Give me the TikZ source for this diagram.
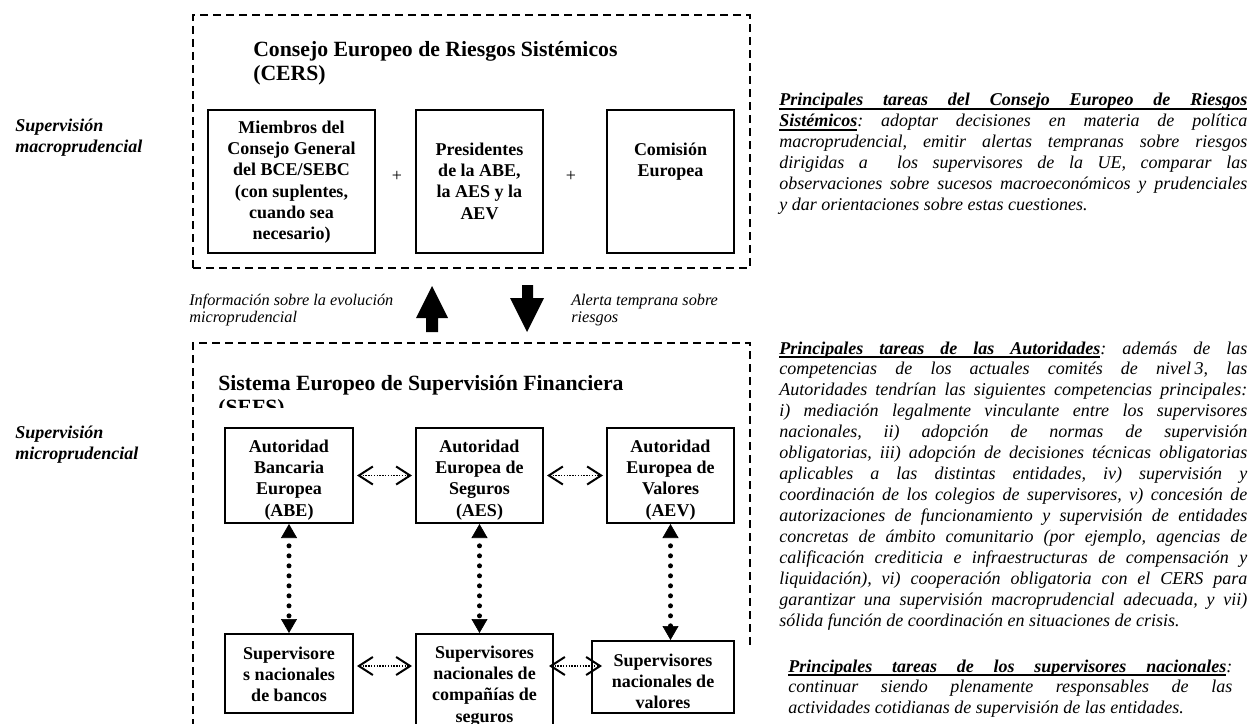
\documentclass[tikz,border=0pt]{standalone}
\usepackage{fontspec}
\setmainfont{Liberation Serif}
\usetikzlibrary{arrows.meta,fit}
\AtBeginDocument{\frenchspacing}
\newcommand\clines[1]{\vtop{\halign{\hfil##\hfil\cr#1\crcr}}}
\newcommand\llines[1]{\vtop{\halign{##\hfil\cr#1\crcr}}}
\newcommand\uw[1]{\setbox0\hbox{#1}\rlap{\vrule height -1.7pt depth 3.2pt width \wd0}\box0}
\newcommand\us{\leaders\hrule height -1.7pt depth 3.2pt\hskip\fontdimen2\font plus\fontdimen3\font minus\fontdimen4\font\relax}
\newcommand\jl[1]{\hbox to\hsize{#1}}
\tikzset{
  container/.style={draw, line width=1.5pt, dash pattern=on 6pt off 3.75pt},
  boxe/.style={draw, line width=1.5pt, inner sep=0pt},
  boxtext/.style={font=\bfseries\fontsize{13.5}{16}\selectfont, inner sep=0pt},
  titletext/.style={font=\bfseries\fontsize{16.3}{18}\selectfont, inner sep=0pt},
  sidelabel/.style={font=\bfseries\itshape\fontsize{13.5}{15.75}\selectfont, inner sep=0pt},
  flowlabel/.style={font=\itshape\fontsize{12.2}{12.75}\selectfont, inner sep=0pt},
  notes/.style={font=\itshape\fontsize{13.5}{15.7}\selectfont, inner sep=0pt},
  plussign/.style={font=\fontsize{13.5}{16}\selectfont, inner sep=0pt},
  vlink/.style={line width=3.75pt, line cap=round, dash pattern=on 0pt off 7.5pt, dash phase=1.5pt,
     {Triangle[length=10.5pt,width=12pt,line width=0.5pt]}-{Triangle[length=10.5pt,width=12pt,line width=0.5pt]}},
  hlink/.style={line width=1pt, dash pattern=on 1pt off 1.1pt,
     {Straight Barb[length=10.5pt,width=13.5pt,line width=1.5pt]}-{Straight Barb[length=10.5pt,width=13.5pt,line width=1.5pt]}},
  bigarrow/.style={fill=black},
}
\begin{document}
\begin{tikzpicture}[x=0.75pt,y=-0.75pt]
\useasboundingbox[fill=white] (0,0) rectangle (1250,724);
% containers
\node[container, inner sep=0pt, fit={(193,15) (750,268)}] (cers) {};
\coordinate (sefsBL) at (193,740);
\coordinate (sefsTL) at (193,343);
\coordinate (sefsTR) at (750,343);
\coordinate (sefsBR) at (750,645);
\draw[container] (sefsBL) -- (sefsTL) -- (sefsTR) -- (sefsBR);
% boxes
\node[boxe, fit={(208,110) (375,253)}] (miembros) {};
\node[boxe, fit={(416,110) (543,253)}] (presid) {};
\node[boxe, fit={(607,110) (734,253)}] (comision) {};
\node[boxe, fit={(225,428) (353,523)}] (abe) {};
\node[boxe, fit={(416,428) (543,523)}] (aes) {};
\node[boxe, fit={(607,428) (734,523)}] (aev) {};
\node[boxe, fit={(225,634) (353,713)}] (bancos) {};
\node[boxe, fit={(416,634) (553,760)}] (seguros) {};
\node[boxe, fit={(592,641) (734,713)}] (valores) {};
% box texts
\node[boxtext, anchor=base] (miembrosT) at (291.5,133) {\clines{Miembros del\cr Consejo General\cr del BCE/SEBC\cr (con suplentes,\cr cuando sea\cr necesario)}};
\node[boxtext, anchor=base] (presidT) at (479.5,155) {\clines{Presidentes\cr de la ABE,\cr la AES y la\cr AEV}};
\node[boxtext, anchor=base] (comisionT) at (670.5,155) {\clines{Comisión\cr Europea}};
\node[boxtext, anchor=base] (abeT) at (289,452) {\clines{Autoridad\cr Bancaria\cr Europea\cr (ABE)}};
\node[boxtext, anchor=base] (aesT) at (479.5,452) {\clines{Autoridad\cr Europea de\cr Seguros\cr (AES)}};
\node[boxtext, anchor=base] (aevT) at (670.5,452) {\clines{Autoridad\cr Europea de\cr Valores\cr (AEV)}};
\node[boxtext, anchor=base] (bancosT) at (289,659) {\clines{Supervisore\cr s nacionales\cr de bancos}};
\node[boxtext, anchor=base] (segurosT) at (484.5,658) {\clines{Supervisores\cr nacionales de\cr compañías de\cr seguros}};
\node[boxtext, anchor=base] (valoresT) at (663,666) {\clines{Supervisores\cr nacionales de\cr valores}};
\node[plussign] (plus1) at (397,176) {+};
\node[plussign] (plus2) at (571,176) {+};
% titles
\node[titletext, anchor=base west] (cersT) at (253,57) {\llines{Consejo Europeo de Riesgos Sistémicos\cr (CERS)}};
\begin{scope}
\clip (200,360) rectangle (740,407);
\node[titletext, anchor=base west] (sefsT) at (218,390) {\llines{Sistema Europeo de Supervisión Financiera\cr (SEFS)}};
\end{scope}
% side labels
\node[sidelabel, anchor=base west] (macro) at (15,132) {\llines{Supervisión\cr macroprudencial}};
\node[sidelabel, anchor=base west] (micro) at (15,438) {\llines{Supervisión\cr microprudencial}};
% flow labels and block arrows
\node[flowlabel, anchor=base west] (infoT) at (189,305) {\llines{Información sobre la evolución\cr microprudencial}};
\node[flowlabel, anchor=base west] (alertT) at (571,305) {\llines{Alerta temprana sobre\cr riesgos}};
\coordinate (upTip) at (432,286);
\coordinate (downTip) at (527,332);
\fill[bigarrow] (426,332) -- (426,318) -- (416,318) -- (upTip) -- (448,318) -- (438,318) -- (438,332) -- cycle;
\fill[bigarrow] (522,285) -- (533,285) -- (533,298) -- (544,298) -- (downTip) -- (510,298) -- (522,298) -- cycle;
% connectors
\draw[hlink, shorten <=2.25pt, shorten >=2.25pt] (abe) -- (aes);
\draw[hlink, shorten <=2.25pt, shorten >=2.25pt] (aes) -- (aev);
\coordinate (hrow) at (0,666);
\draw[hlink, shorten <=2.25pt, shorten >=2.25pt] (bancos.east |- hrow) -- (seguros.west |- hrow);
\draw[hlink, shorten <=-3.75pt, shorten >=-8.25pt] (seguros.east |- hrow) -- (valores.west |- hrow);
\draw[vlink] (abe.south) -- (bancos.north);
\draw[vlink] (aes.south) -- (aes.south |- seguros.north);
\draw[vlink] (aev.south) -- (aev.south |- valores.north);
% notes
\node[notes, anchor=base west] (note1) at (779,106) {\vtop{\hsize=351pt
\jl{{\bfseries\uw{Principales}\us\uw{tareas}\us\uw{del}\us\uw{Consejo}\us\uw{Europeo}\us\uw{de}\us\uw{Riesgos}}}
\jl{{\bfseries\uw{Sistémicos}}: adoptar decisiones en materia de política}
\jl{macroprudencial, emitir alertas tempranas sobre riesgos}
\jl{dirigidas a \ los supervisores de la UE, comparar las}
\jl{observaciones sobre sucesos macroeconómicos y prudenciales}
\hbox{y dar orientaciones sobre estas cuestiones.}}};
\node[notes, anchor=base west] (note2) at (779,354) {\vtop{\hsize=351pt
\jl{{\bfseries\uw{Principales}\us\uw{tareas}\us\uw{de}\us\uw{las}\us\uw{Autoridades}}: además de las}
\jl{competencias de los actuales comités de nivel\kern0.2em 3, las}
\jl{Autoridades tendrían las siguientes competencias principales:}
\jl{i) mediación legalmente vinculante entre los supervisores}
\jl{nacionales, ii) adopción de normas de supervisión}
\jl{obligatorias, iii) adopción de decisiones técnicas obligatorias}
\jl{aplicables a las distintas entidades, iv) supervisión y}
\jl{coordinación de los colegios de supervisores, v) concesión de}
\jl{autorizaciones de funcionamiento y supervisión de entidades}
\jl{concretas de ámbito comunitario (por ejemplo, agencias de}
\jl{calificación crediticia e infraestructuras de compensación y}
\jl{liquidación), vi) cooperación obligatoria con el CERS para}
\jl{garantizar una supervisión macroprudencial adecuada, y vii)}
\hbox{sólida función de coordinación en situaciones de crisis.}}};
\node[notes, anchor=base west] (note3) at (788,672) {\vtop{\hsize=333pt
\jl{{\bfseries\uw{Principales}\us\uw{tareas}\us\uw{de}\us\uw{los}\us\uw{supervisores}\us\uw{nacionales}}:}
\jl{continuar siendo plenamente responsables de las}
\hbox{actividades cotidianas de supervisión de las entidades.}}};
\end{tikzpicture}
\end{document}
